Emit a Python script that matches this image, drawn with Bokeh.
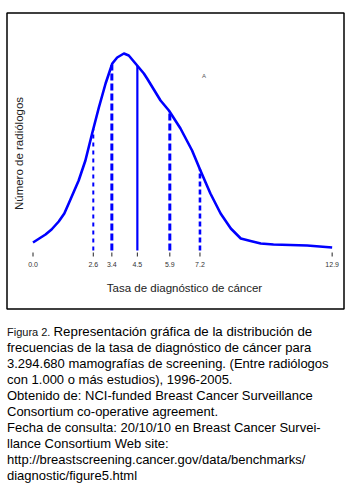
import numpy as np
from bokeh.plotting import figure
from bokeh.models import Range1d
from bokeh.core.properties import value
from bokeh.embed import file_html
from bokeh.resources import INLINE

# ---- data ----
rate = [0.0, 0.54, 0.80, 1.11, 1.35, 1.54, 1.97, 2.26, 2.55, 2.84, 3.13, 3.42, 3.63, 3.92,
        4.13, 4.42, 4.78, 4.92, 5.50, 5.86, 6.36, 6.86, 7.22, 7.65, 8.09, 8.53,
        8.96, 9.38, 9.82, 10.37, 11.82, 12.9]
radiologists = [8, 16, 21, 29, 37, 47, 70, 90, 117, 143, 167, 187, 193, 197,
                195, 187, 177, 172, 150, 140, 122, 100, 80, 57, 37, 22,
                12, 9.5, 7, 6, 5, 3]
percentile_values = [2.6, 3.4, 4.5, 5.9, 7.2]
percentile_dash = ["4 4", "7 3", "solid", "7 3", "5 3"]
percentile_width = [2.0, 3.0, 2.2, 3.0, 2.6]
tick_values = [0.0, 2.6, 3.4, 4.5, 5.9, 7.2, 12.9]
tick_labels = ["0.0", "2.6", "3.4", "4.5", "5.9", "7.2", "12.9"]
caption_lines = [
    "frecuencias de la tasa de diagnóstico de cáncer para",
    "3.294.680 mamografías de screening. (Entre radiólogos",
    "con 1.000 o más estudios), 1996-2005.",
    "Obtenido de: NCI-funded Breast Cancer Surveillance",
    "Consortium co-operative agreement.",
    "Fecha de consulta: 20/10/10 en Breast Cancer Survei-",
    "llance Consortium Web site:",
    "http://breastscreening.cancer.gov/data/benchmarks/",
    "diagnostic/figure5.html",
]

W, H = 351, 483
X0, SX = 32.5, 23.19      # pixel of rate 0, pixels per unit
Y0 = 250.0                # pixel of baseline


def X(px):
    return (px - X0) / SX


def Y(py):
    return Y0 - py


p = figure(width=W, height=H, output_backend="svg", toolbar_location=None,
           x_range=Range1d(X(0), X(W)), y_range=Range1d(Y(H), Y(0)),
           min_border=0)
p.axis.visible = False
p.grid.visible = False
p.outline_line_color = None
p.background_fill_color = "white"
p.border_fill_color = "white"

# frame box
p.quad(left=[X(6.5)], right=[X(343.5)], top=[Y(12.5)], bottom=[Y(308.5)],
       fill_color=None, line_color="black", line_width=1.5)

blue = "#0000FF"
# percentile lines
tops = np.interp(percentile_values, rate, radiologists)
for v, t, d, w in zip(percentile_values, tops, percentile_dash, percentile_width):
    p.line([v, v], [0, t], line_color=blue, line_width=w, line_dash=d)

# density curve
p.line(rate, radiologists, line_color=blue, line_width=2.6, line_join="round")

# ticks
p.segment(x0=tick_values, x1=tick_values, y0=[Y(252)] * len(tick_values),
          y1=[Y(256)] * len(tick_values), line_color="#222222", line_width=1)
p.text(x=tick_values, y=[Y(263.5)] * len(tick_values), text=tick_labels,
       text_font=value("Liberation Sans"), text_font_size="7px",
       text_color="#333333", text_align="center", text_baseline="middle")

# axis titles
p.text(x=[X(184)], y=[Y(287)], text=["Tasa de diagnóstico de cáncer"],
       text_font=value("Liberation Sans"), text_font_size="11.5px",
       text_color="#222222", text_align="center", text_baseline="middle")
p.text(x=[X(18)], y=[Y(153)], text=["Número de radiólogos"], angle=np.pi / 2,
       text_font=value("Liberation Sans"), text_font_size="11.5px",
       text_color="#222222", text_align="center", text_baseline="middle")
p.text(x=[X(203.5)], y=[Y(75)], text=["A"],
       text_font=value("Liberation Sans"), text_font_size="6px",
       text_color="#555555", text_align="center", text_baseline="middle")

# caption
p.text(x=[X(6.5)], y=[Y(331)], text=["Figura 2."],
       text_font=value("Liberation Sans"), text_font_size="11px",
       text_color="#111111", text_align="left", text_baseline="middle")
p.text(x=[X(53)], y=[Y(331)], text=["Representación gráfica de la distribución de"],
       text_font=value("Liberation Sans"), text_font_size="13.3px",
       text_color="black", text_align="left", text_baseline="middle")
p.text(x=[X(6.5)] * len(caption_lines),
       y=[Y(347 + 16 * i) for i in range(len(caption_lines))],
       text=caption_lines,
       text_font=value("Liberation Sans"), text_font_size="13px",
       text_color="black", text_align="left", text_baseline="middle")

open("out.html", "w").write(file_html(p, INLINE))
